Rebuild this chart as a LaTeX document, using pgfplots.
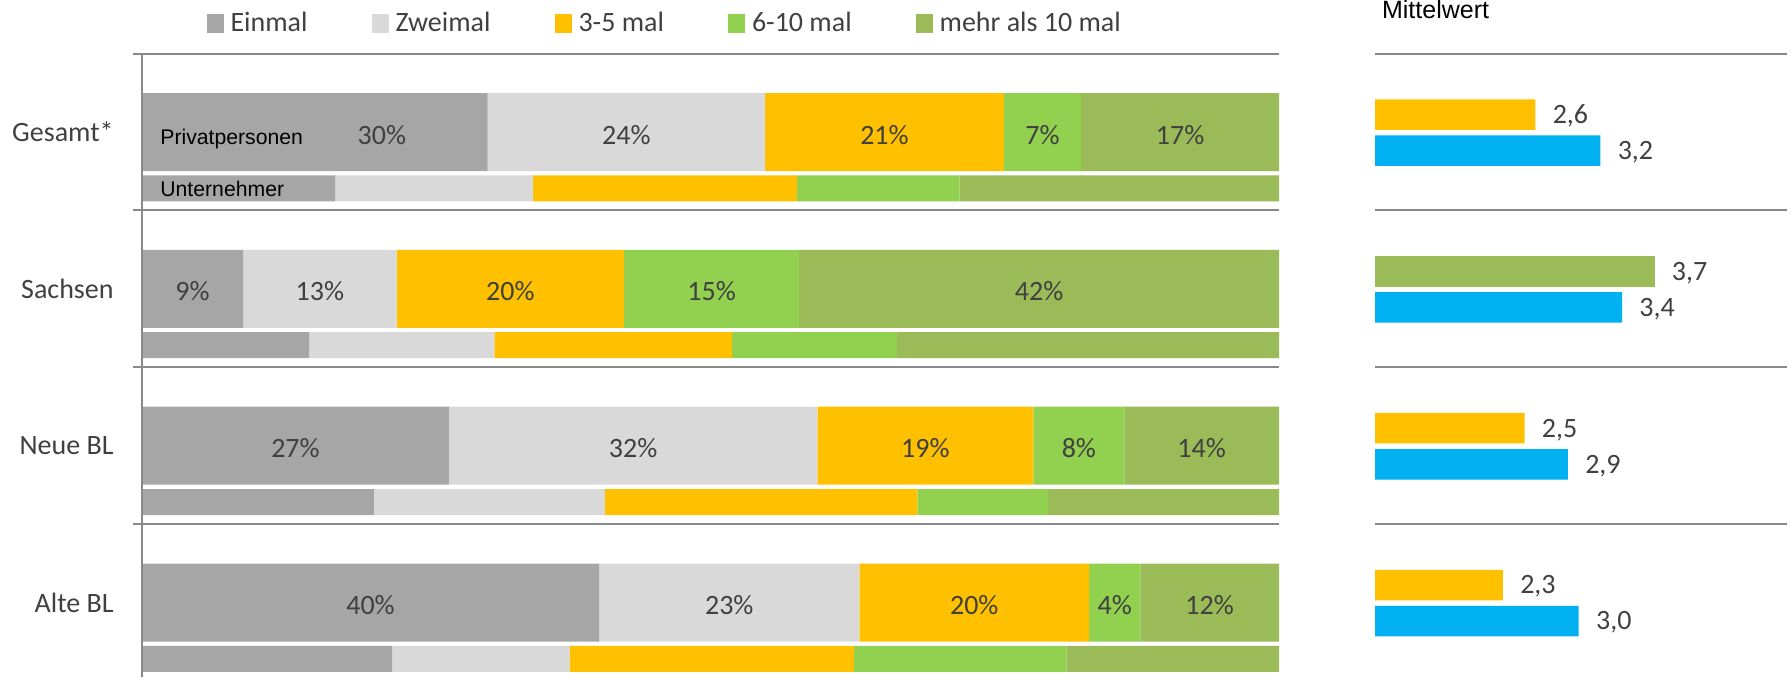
\documentclass[border=0pt]{standalone}
\usepackage{pgfplots}
\usepackage{pgfplotstable}
\pgfplotsset{compat=1.18}
\usepackage{fontspec}
\setmainfont{Carlito}
\newfontfamily\arialf{Liberation Sans}
\definecolor{cEin}{HTML}{A6A6A6}
\definecolor{cZwei}{HTML}{D9D9D9}
\definecolor{cDrei}{HTML}{FFC000}
\definecolor{cSechs}{HTML}{92D050}
\definecolor{cMehr}{HTML}{9BBB59}
\definecolor{cBlue}{HTML}{00B0F0}
\definecolor{sepc}{HTML}{898989}
\definecolor{txt}{HTML}{404040}

% Privatpersonen (big bars), shares in percent of bar length
\pgfplotstableread{
y e z d s m
-132    30.4 24.4 21.0  6.8 17.4
-288.85  8.9 13.5 20.0 15.4 42.2
-445.7  27.0 32.4 19.0  8.0 13.6
-602.55 40.2 22.9 20.2  4.5 12.2
}\privat
% Unternehmer (small bars)
\pgfplotstableread{
y e z d s m
-188.3  17.0 17.4 23.2 14.3 28.1
-345.15 14.7 16.3 20.9 14.5 33.6
-502    20.4 20.3 27.5 11.5 20.3
-658.85 22.0 15.6 25.0 18.7 18.7
}\unter
% printed percentages (label positions inside segments)
\pgfplotstableread{
x y l
21.1  -132 30
42.6  -132 24
65.3  -132 21
79.2  -132 7
91.3  -132 17
4.45  -288.85 9
15.65 -288.85 13
32.4  -288.85 20
50.1  -288.85 15
78.9  -288.85 42
13.5  -445.7 27
43.2  -445.7 32
68.9  -445.7 19
82.4  -445.7 8
93.2  -445.7 14
20.1  -602.55 40
51.65 -602.55 23
73.2  -602.55 20
85.55 -602.55 4
93.9  -602.55 12
}\labs
% Mittelwert
\pgfplotstableread{
x y l
2.6 -114.5 2,6
2.5 -428.2 2,5
2.3 -585.05 2,3
}\mwprivat
\pgfplotstableread{
x y l
3.7 -271.35 3,7
}\mwsachsen
\pgfplotstableread{
x y l
3.2 -150.6 3,2
3.4 -307.45 3,4
2.9 -464.3 2,9
3.0 -621.15 3,0
}\mwunter

\pgfplotsset{
  mainax/.style={at={(71pt,-26.75pt)}, anchor=north west, scale only axis,
    width=568.5pt, height=311.75pt, xmin=0, xmax=100, ymin=-677, ymax=-53.5},
}

\begin{document}
\begin{tikzpicture}
\useasboundingbox (0,0) rectangle (895pt,-338.5pt);

% big bars
\begin{axis}[mainax, hide axis, xbar stacked, bar width=78,
  legend columns=5,
  legend image code/.code={\fill[#1] (0pt,-4.75pt) rectangle (8.5pt,4.75pt);},
  legend style={at={(axis description cs:0.0568,1.0489)}, anchor=west,
    draw=none, fill=none, inner sep=0pt, outer sep=0pt,
    font=\fontsize{14}{16}\selectfont, text=txt,
    nodes={inner sep=0pt},
    /tikz/every odd column/.append style={column sep=3.5pt},
    /tikz/every even column/.append style={column sep=32pt}}]
\addplot[fill=cEin, draw=none] table[x=e,y=y]{\privat};
\addplot[fill=cZwei, draw=none] table[x=z,y=y]{\privat};
\addplot[fill=cDrei, draw=none] table[x=d,y=y]{\privat};
\addplot[fill=cSechs, draw=none] table[x=s,y=y]{\privat};
\addplot[fill=cMehr, draw=none] table[x=m,y=y]{\privat};
\legend{Einmal,Zweimal,3-5 mal,6-10 mal,mehr als 10 mal}
\end{axis}

% small bars
\begin{axis}[mainax, hide axis, xbar stacked, bar width=26]
\addplot[fill=cEin, draw=none] table[x=e,y=y]{\unter};
\addplot[fill=cZwei, draw=none] table[x=z,y=y]{\unter};
\addplot[fill=cDrei, draw=none] table[x=d,y=y]{\unter};
\addplot[fill=cSechs, draw=none] table[x=s,y=y]{\unter};
\addplot[fill=cMehr, draw=none] table[x=m,y=y]{\unter};
\end{axis}

% furniture and labels
\begin{axis}[mainax, clip=false, axis x line=none, axis y line*=left,
  y axis line style={sepc, line width=0.6pt},
  xtick=\empty,
  ytick={-132,-288.85,-445.7,-602.55},
  yticklabels={Gesamt*,Sachsen,Neue BL,Alte BL},
  ytick style={draw=none},
  yticklabel style={font=\fontsize{14}{16}\selectfont, text=txt, inner sep=0pt, xshift=-14pt}]
\addplot[only marks, mark=*, mark size=0pt, mark options={draw=none,fill=none},
  point meta=explicit symbolic,
  nodes near coords={\pgfplotspointmeta\%},
  nodes near coords style={anchor=base, yshift=-6pt, font=\fontsize{14}{16}\selectfont, text=txt}]
  table[x=x,y=y,meta=l]{\labs};
\foreach \s in {-53.5,-210.35,-367.2,-524.05}{
  \edef\tmp{\noexpand\draw[sepc, line width=1pt] (axis cs:-0.8,\s) -- (axis cs:100,\s);}\tmp
}
\end{axis}

\node[anchor=base west, inner sep=0pt, font=\arialf\fontsize{10.6}{12}\selectfont] at (80pt,-72pt) {Privatpersonen};
\node[anchor=base west, inner sep=0pt, font=\arialf\fontsize{10.6}{12}\selectfont] at (80pt,-98pt) {Unternehmer};

% Mittelwert panel
\begin{axis}[at={(687.5pt,-26.75pt)}, anchor=north west, scale only axis,
  width=207.5pt, height=311.75pt, xmin=0, xmax=3.83, ymin=-677, ymax=-53.5,
  hide axis, clip=false, xbar, bar width=30.5,
  x filter/.expression={x-1.12},
  point meta=explicit symbolic,
  nodes near coords,
  nodes near coords style={anchor=base west, inner sep=0pt, xshift=8.5pt, yshift=-4.4pt,
    font=\fontsize{14}{16}\selectfont, text=txt}]
\addplot[fill=cDrei, draw=none, bar shift=0pt] table[x=x,y=y,meta=l]{\mwprivat};
\addplot[fill=cMehr, draw=none, bar shift=0pt] table[x=x,y=y,meta=l]{\mwsachsen};
\addplot[fill=cBlue, draw=none, bar shift=0pt] table[x=x,y=y,meta=l]{\mwunter};
\foreach \s in {-53.5,-210.35,-367.2,-524.05}{
  \edef\tmp{\noexpand\draw[sepc, line width=1pt] (axis cs:0,\s) -- (axis cs:3.80,\s);}\tmp
}
\end{axis}
\node[anchor=base west, inner sep=0pt, font=\arialf\fontsize{12.5}{14}\selectfont] at (690.85pt,-9.15pt) {Mittelwert};
\end{tikzpicture}
\end{document}
